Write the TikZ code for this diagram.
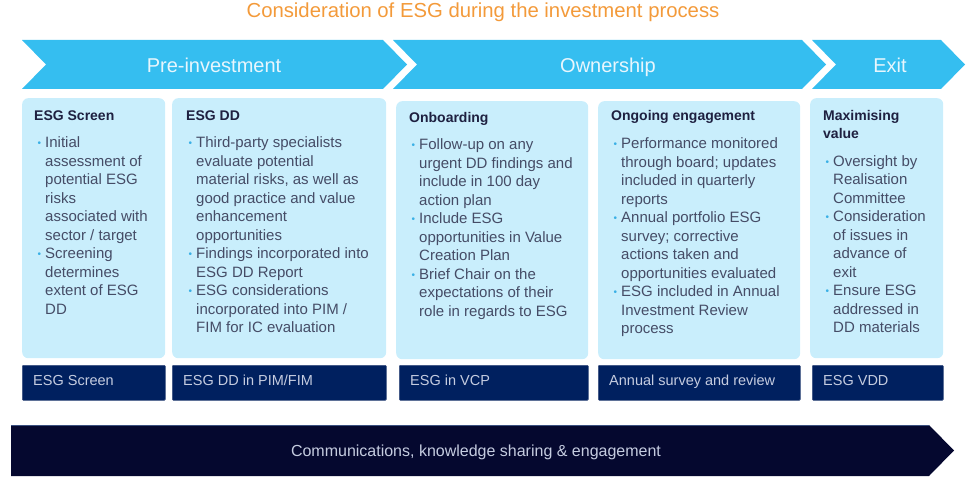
\documentclass[tikz,border=0pt]{standalone}
\usepackage{fontspec}
\setmainfont{Liberation Sans}
\definecolor{chev}{HTML}{35BEF0}
\definecolor{lbox}{HTML}{C9EEFC}
\definecolor{dbox}{HTML}{00205F}
\definecolor{dboxline}{HTML}{3A5080}
\definecolor{botarrow}{HTML}{05082F}
\definecolor{titleor}{HTML}{F39A3A}
\definecolor{headc}{HTML}{1E2040}
\definecolor{bodyc}{HTML}{454C66}
\definecolor{bul}{HTML}{3BB0E6}
\definecolor{dtext}{HTML}{C5CCE0}
\definecolor{chtext}{HTML}{E8F6FD}
\newcommand\bl{\llap{\textcolor{bul}{\raisebox{0.08em}{\fontsize{10}{10}\selectfont\textbullet}}\hspace{4pt}}}
\newcommand\blines[1]{\begin{tabular}[t]{@{}l@{}}#1\end{tabular}}
\tikzset{
  chevshape/.style={fill=chev, draw=none},
  lightbox/.style={rectangle, rounded corners=6pt, fill=lbox, draw=none, inner sep=0pt, anchor=north west},
  darkbox/.style={rectangle, rounded corners=1pt, fill=dbox, draw=dboxline, line width=0.6pt, inner sep=0pt, anchor=north west},
  chevlabel/.style={text=chtext, font=\fontsize{20}{24}\selectfont, anchor=base, inner sep=0pt},
  header/.style={text=headc, font=\fontsize{14}{18.4}\selectfont\bfseries, anchor=base west, inner sep=0pt},
  body/.style={text=bodyc, font=\fontsize{15}{18.5}\selectfont, anchor=base west, inner sep=0pt},
  darklabel/.style={text=dtext, font=\fontsize{14.5}{17}\selectfont, anchor=base west, inner sep=0pt},
}
\begin{document}
\begin{tikzpicture}[x=1pt,y=-1pt]
\useasboundingbox (0,0) rectangle (975,481);
% title
\node[text=titleor, font=\fontsize{20.3}{24}\selectfont, anchor=base, inner sep=0pt] (title) at (483,18) {Consideration of ESG during the investment process};
% chevrons
\fill[chevshape] (22,40) -- (383,40) -- (407,64.5) -- (383,89) -- (22,89) -- (46,64.5) -- cycle;
\fill[chevshape] (393,40) -- (802,40) -- (826,64.5) -- (802,89) -- (393,89) -- (417,64.5) -- cycle;
\fill[chevshape] (812,40) -- (941,40) -- (965,64.5) -- (941,89) -- (812,89) -- (836,64.5) -- cycle;
\node[chevlabel] (pre) at (214,72.5) {Pre-investment};
\node[chevlabel] (own) at (608,72.5) {Ownership};
\node[chevlabel] (exit) at (890,72.5) {Exit};
% light boxes
\node[lightbox, minimum width=143pt, minimum height=260pt] (b1) at (22,98) {};
\node[lightbox, minimum width=214pt, minimum height=260pt] (b2) at (172,98) {};
\node[lightbox, minimum width=192pt, minimum height=258pt] (b3) at (396,101) {};
\node[lightbox, minimum width=202pt, minimum height=258pt] (b4) at (598,101) {};
\node[lightbox, minimum width=133pt, minimum height=260pt] (b5) at (810,98) {};
% headers
\node[header] (h1) at (34,120.5) {ESG Screen};
\node[header] (h2) at (186,120.5) {ESG DD};
\node[header] (h3) at (409,122.5) {Onboarding};
\node[header] (h4) at (611,120.5) {Ongoing engagement};
\node[header] (h5) at (823,120.5) {\blines{Maximising\\value}};
% bodies
\node[body] (t1) at (45,148) {\blines{\bl Initial\\assessment of\\potential ESG\\risks\\associated with\\sector / target\\\bl Screening\\determines\\extent of ESG\\DD}};
\node[body] (t2) at (196,148) {\blines{\bl Third-party specialists\\evaluate potential\\material risks, as well as\\good practice and value\\enhancement\\opportunities\\\bl Findings incorporated into\\ESG DD Report\\\bl ESG considerations\\incorporated into PIM /\\FIM for IC evaluation}};
\node[body] (t3) at (419,150) {\blines{\bl Follow-up on any\\urgent DD findings and\\include in 100 day\\action plan\\\bl Include ESG\\opportunities in Value\\Creation Plan\\\bl Brief Chair on the\\expectations of their\\role in regards to ESG}};
\node[body] (t4) at (621,149) {\blines{\bl Performance monitored\\through board; updates\\included in quarterly\\reports\\\bl Annual portfolio ESG\\survey; corrective\\actions taken and\\opportunities evaluated\\\bl ESG included in Annual\\Investment Review\\process}};
\node[body] (t5) at (833,166.5) {\blines{\bl Oversight by\\Realisation\\Committee\\\bl Consideration\\of issues in\\advance of\\exit\\\bl Ensure ESG\\addressed in\\DD materials}};
% dark boxes
\node[darkbox, minimum width=143pt, minimum height=35pt] (d1) at (22,365) {};
\node[darkbox, minimum width=214pt, minimum height=35pt] (d2) at (172,365) {};
\node[darkbox, minimum width=189pt, minimum height=35pt] (d3) at (399,365) {};
\node[darkbox, minimum width=202pt, minimum height=35pt] (d4) at (598,365) {};
\node[darkbox, minimum width=131pt, minimum height=35pt] (d5) at (812,365) {};
\node[darklabel] (l1) at (33,385.5) {ESG Screen};
\node[darklabel] (l2) at (183,385.5) {ESG DD in PIM/FIM};
\node[darklabel] (l3) at (410,385.5) {ESG in VCP};
\node[darklabel] (l4) at (609,385.5) {Annual survey and review};
\node[darklabel] (l5) at (823,385.5) {ESG VDD};
% bottom arrow
\fill[botarrow] (11,425) -- (929,425) -- (954,450.5) -- (929,476) -- (11,476) -- cycle;
\draw[dboxline, line width=0.5pt] (11,425.3) -- (929,425.3);
\node[text=dtext, font=\fontsize{16}{18}\selectfont, anchor=base, inner sep=0pt] (comm) at (476,456) {Communications, knowledge sharing \& engagement};
\end{tikzpicture}
\end{document}
